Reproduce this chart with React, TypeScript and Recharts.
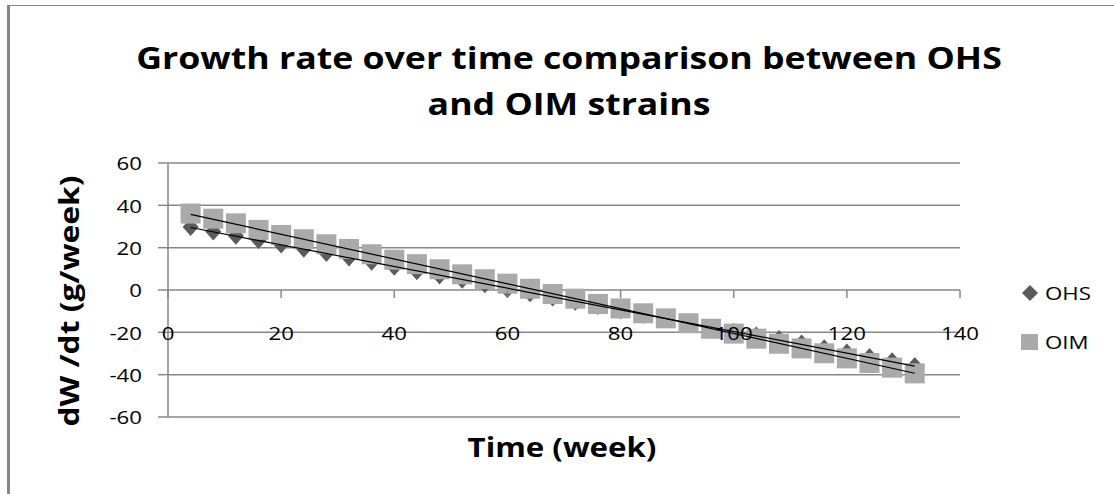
import React from "react";
import { ComposedChart, Scatter, XAxis, YAxis, CartesianGrid } from "recharts";

const weeks = [4, 8, 12, 16, 20, 24, 28, 32, 36, 40, 44, 48, 52, 56, 60, 64, 68, 72, 76, 80, 84, 88, 92, 96, 100, 104, 108, 112, 116, 120, 124, 128, 132];
const ohsValues = [29.8, 27.6, 25.6, 23.6, 21.5, 19.5, 17.5, 15.3, 13.4, 11.0, 8.8, 6.9, 4.8, 2.7, 0.4, -1.5, -3.5, -5.5, -7.6, -9.6, -11.7, -13.7, -15.8, -17.8, -19.9, -21.5, -23.2, -25.3, -27.5, -29.5, -31.7, -33.7, -35.9];
const oimValues = [36.1, 33.7, 31.5, 28.4, 26.0, 24.0, 21.6, 19.4, 16.9, 14.3, 12.2, 9.8, 7.4, 5.1, 3.0, 0.6, -1.9, -4.1, -6.6, -8.7, -11.0, -13.4, -15.7, -18.3, -20.6, -23.0, -25.4, -27.6, -29.9, -32.3, -34.5, -36.7, -39.4];
const xTicks = [0, 20, 40, 60, 80, 100, 120, 140];
const yTicks = [-60, -40, -20, 0, 20, 40, 60];
const seriesNames = ["OHS", "OIM"];

const W = 1114;
const H = 494;
const PLOT_LEFT = 168;
const PLOT_RIGHT = 960;
const PLOT_TOP = 163;
const PLOT_BOTTOM = 417;
const Y_MIN = -60;
const Y_MAX = 60;
const ZERO_Y = PLOT_TOP + ((Y_MAX - 0) / (Y_MAX - Y_MIN)) * (PLOT_BOTTOM - PLOT_TOP);
const GRID = "#878787";
const OHS_COLOR = "#5b5b5b";
const OIM_COLOR = "#aaaaaa";
const FONT = "'Open Sans', sans-serif";
const STRETCH = 1.17;

const ohsData = weeks.map((w, i) => ({ x: w, y: ohsValues[i] }));
const oimData = weeks.map((w, i) => ({ x: w, y: oimValues[i] }));

function trend(xs: number[], ys: number[]) {
  const n = xs.length;
  const mx = xs.reduce((a, b) => a + b, 0) / n;
  const my = ys.reduce((a, b) => a + b, 0) / n;
  let sxy = 0;
  let sxx = 0;
  for (let i = 0; i < n; i++) {
    sxy += (xs[i] - mx) * (ys[i] - my);
    sxx += (xs[i] - mx) * (xs[i] - mx);
  }
  const slope = sxy / sxx;
  const b = my - slope * mx;
  const x0 = xs[0];
  const x1 = xs[n - 1];
  return [
    { x: x0, y: slope * x0 + b },
    { x: x1, y: slope * x1 + b },
  ];
}

const ohsTrend = trend(weeks, ohsValues);
const oimTrend = trend(weeks, oimValues);

const Diamond = (props: any) => {
  const { cx, cy } = props;
  if (cx == null || cy == null) return <g />;
  return (
    <polygon
      points={`${cx},${cy - 9} ${cx + 8},${cy} ${cx},${cy + 9} ${cx - 8},${cy}`}
      fill={OHS_COLOR}
    />
  );
};

const Square = (props: any) => {
  const { cx, cy } = props;
  if (cx == null || cy == null) return <g />;
  return <rect x={cx - 10} y={cy - 10} width={20} height={20} fill={OIM_COLOR} />;
};

const NoShape = () => <g />;

const XTick = (props: any) => {
  const { x, payload } = props;
  return (
    <g>
      <line x1={x} x2={x} y1={ZERO_Y} y2={ZERO_Y + 8} stroke={GRID} strokeWidth={1.5} />
      <text
        transform={`translate(${x},${ZERO_Y + 43}) scale(${STRETCH},1)`}
        x={0}
        y={0}
        textAnchor="middle"
        dominantBaseline="central"
        fontFamily={FONT}
        fontSize={19}
        fill="#000"
      >
        {payload.value}
      </text>
    </g>
  );
};

const YTick = (props: any) => {
  const { x, y, payload } = props;
  return (
    <text
      transform={`translate(${x},${y}) scale(${STRETCH},1)`}
      x={0}
      y={0}
      textAnchor="end"
      dominantBaseline="central"
      fontFamily={FONT}
      fontSize={19}
      fill="#000"
    >
      {payload.value}
    </text>
  );
};

const boldText: React.CSSProperties = {
  position: "absolute",
  fontFamily: FONT,
  fontWeight: 700,
  color: "#000",
  whiteSpace: "nowrap",
  textAlign: "center",
};

export default function App() {
  return (
    <div style={{ position: "absolute", left: 0, top: 0, width: W, height: H, background: "#fff", overflow: "hidden" }}>
      <div
        style={{
          position: "absolute",
          left: 7,
          top: 5,
          width: W,
          height: H,
          borderLeft: "3px solid #868686",
          borderTop: "1.5px solid #868686",
        }}
      />
      <div
        style={{
          ...boldText,
          left: 12,
          top: 34,
          width: W,
          fontSize: 31,
          lineHeight: "46px",
          transform: "scaleX(1.15)",
        }}
      >
        Growth rate over time comparison between OHS
        <br />
        and OIM strains
      </div>
      <div
        style={{
          ...boldText,
          left: 69 - 150,
          top: 301 - 18,
          width: 300,
          height: 36,
          lineHeight: "36px",
          fontSize: 26,
          transform: `rotate(-90deg) scaleX(${STRETCH + 0.05})`,
        }}
      >
        dW /dt (g/week)
      </div>
      <div
        style={{
          ...boldText,
          left: 562 - 150,
          top: 447 - 18,
          width: 300,
          height: 36,
          lineHeight: "36px",
          fontSize: 26,
          transform: `scaleX(${STRETCH + 0.03})`,
        }}
      >
        Time (week)
      </div>
      <div style={{ position: "absolute", left: 1021, top: 282, fontFamily: FONT, fontSize: 19, color: "#000" }}>
        <div style={{ position: "absolute", left: 0, top: 0, display: "flex", alignItems: "center", height: 22, whiteSpace: "nowrap" }}>
          <svg width={18} height={18} style={{ marginRight: 6 }}>
            <polygon points="9,1 17,9 9,17 1,9" fill={OHS_COLOR} />
          </svg>
          <span style={{ display: "inline-block", transform: `scaleX(${STRETCH})`, transformOrigin: "left center" }}>{seriesNames[0]}</span>
        </div>
        <div style={{ position: "absolute", left: 0, top: 49, display: "flex", alignItems: "center", height: 22, whiteSpace: "nowrap" }}>
          <svg width={18} height={18} style={{ marginRight: 6 }}>
            <rect x={0} y={1} width={17} height={16} fill={OIM_COLOR} />
          </svg>
          <span style={{ display: "inline-block", transform: `scaleX(${STRETCH})`, transformOrigin: "left center" }}>{seriesNames[1]}</span>
        </div>
      </div>
      <div style={{ position: "absolute", left: 0, top: 0 }}>
        <ComposedChart
          width={W}
          height={H}
          margin={{ top: PLOT_TOP, right: W - PLOT_RIGHT, bottom: H - PLOT_BOTTOM - 30, left: 0 }}
        >
          <CartesianGrid vertical={false} stroke={GRID} strokeWidth={1.5} />
          <XAxis
            type="number"
            dataKey="x"
            domain={[0, 140]}
            ticks={xTicks}
            interval={0}
            height={30}
            axisLine={false}
            tickLine={false}
            tick={<XTick />}
          />
          <YAxis
            type="number"
            dataKey="y"
            domain={[Y_MIN, Y_MAX]}
            ticks={yTicks}
            interval={0}
            width={PLOT_LEFT}
            axisLine={{ stroke: GRID, strokeWidth: 1.5 }}
            tickLine={{ stroke: GRID, strokeWidth: 1.5 }}
            tickSize={10}
            tickMargin={16}
            tick={<YTick />}
          />
          <Scatter name={seriesNames[0]} data={ohsData} shape={<Diamond />} isAnimationActive={false} />
          <Scatter name={seriesNames[1]} data={oimData} shape={<Square />} isAnimationActive={false} />
          <Scatter
            data={ohsTrend}
            shape={<NoShape />}
            line={{ stroke: "#000", strokeWidth: 1.2 }}
            legendType="none"
            isAnimationActive={false}
          />
          <Scatter
            data={oimTrend}
            shape={<NoShape />}
            line={{ stroke: "#000", strokeWidth: 1.2 }}
            legendType="none"
            isAnimationActive={false}
          />
        </ComposedChart>
      </div>
    </div>
  );
}
